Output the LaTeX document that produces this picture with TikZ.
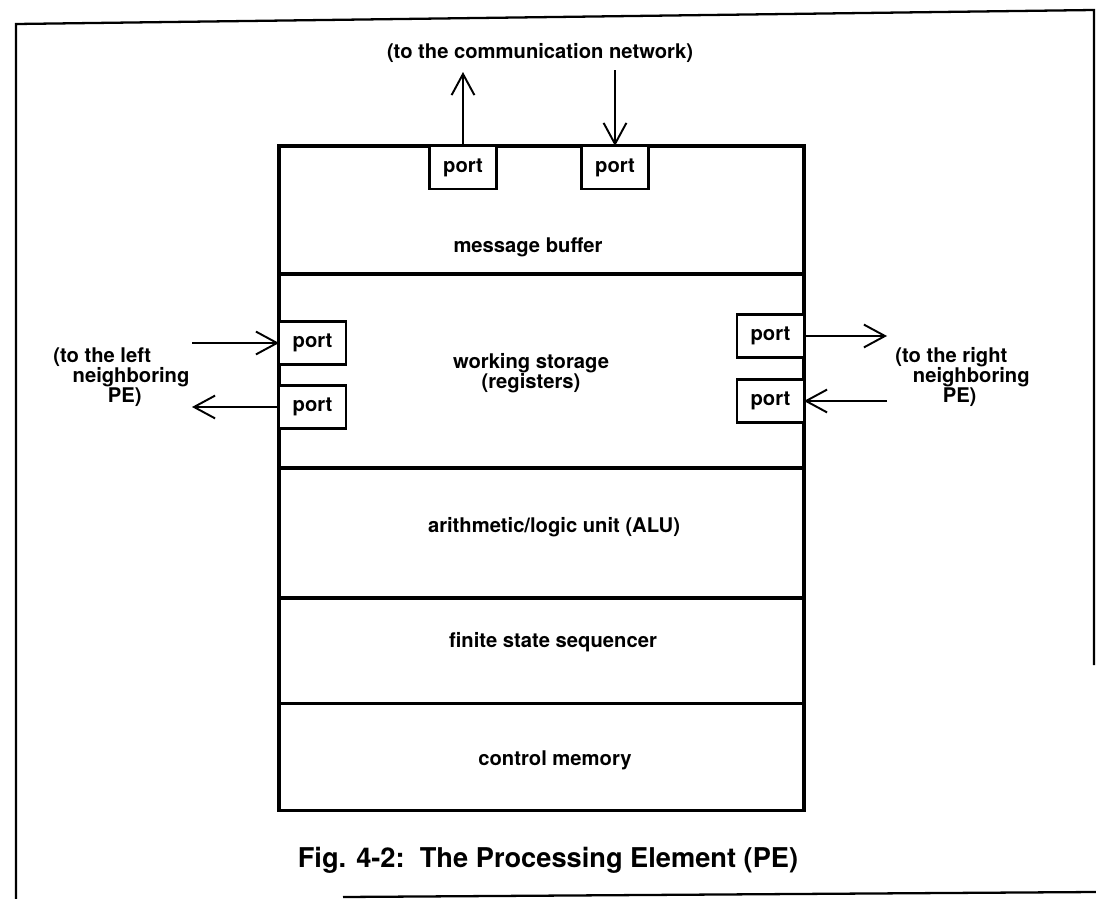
\documentclass[tikz,border=0pt]{standalone}
\usepackage{fontspec}
\setmainfont{TeX Gyre Heros}
\usepackage{tikz}
\usetikzlibrary{arrows.meta,positioning}
\tikzstyle{arrow} = [line width=1.1pt,-{Straight Barb[length=12pt,width=13pt]}]
\tikzstyle{sect} = [rectangle, draw, line width=1.8pt, minimum width=10.5cm, inner sep=0pt, outer sep=0pt]
\tikzstyle{port} = [rectangle, draw, fill=white, line width=1.4pt, minimum width=1.34cm, minimum height=0.86cm, inner sep=0pt, outer sep=0pt, font=\fontsize{11.5}{12}\selectfont\bfseries]
\tikzstyle{lbl} = [inner sep=0pt, font=\fontsize{11.5}{11.3}\selectfont\bfseries]

\begin{document}
\begin{tikzpicture}[x=0.02cm, y=-0.02cm]
    \useasboundingbox (0,0) rectangle (1096,899);
    \draw[line width=1.3pt] (16,899) -- (16,24) -- (1094,10) -- (1094,665);
    \draw[line width=1.3pt] (343,897) -- (1096,892);

    \node[sect, minimum height=2.56cm] (buf) at (541.5,210) {};
    \node[sect, minimum height=3.88cm, below=0pt of buf] (ws) {};
    \node[sect, minimum height=2.60cm, below=0pt of ws] (alu) {};
    \node[sect, minimum height=2.12cm, below=0pt of alu] (fss) {};
    \node[sect, minimum height=2.14cm, below=0pt of fss] (cm) {};

    \node[lbl] (buftxt) at (528,247) {message buffer};
    \node[lbl, align=center] (wstxt) at (531,373) {working storage\\(registers)};
    \node[lbl] (alutxt) at (554,527) {arithmetic/logic unit (ALU)};
    \node[lbl] (fsstxt) at (553,642) {finite state sequencer};
    \node[lbl] (cmtxt) at (555,760) {control memory};

    \node[port, anchor=north] (pt1) at (463,146) {port};
    \node[port, anchor=north] (pt2) at (615,146) {port};
    \node[port, anchor=west] (pl1) at (ws.west |- 0,343) {port};
    \node[port, anchor=west] (pl2) at (ws.west |- 0,407) {port};
    \node[port, anchor=east] (pr1) at (ws.east |- 0,336) {port};
    \node[port, anchor=east] (pr2) at (ws.east |- 0,401) {port};

    \node[lbl] (nettxt) at (540,53) {(to the communication network)};
    \node[lbl, align=left, anchor=west] (lefttxt) at (53,377) {(to the left\\\hspace*{11pt}neighboring\\\hspace*{31pt}PE)};
    \node[lbl, align=left, anchor=west] (righttxt) at (895,377) {(to the right\\\hspace*{10pt}neighboring\\\hspace*{27pt}PE)};

    \coordinate (netout) at (463,72);
    \coordinate (netin) at (615,70);
    \coordinate (leftin) at (192,343);
    \coordinate (leftout) at (192,407);
    \coordinate (rightout) at (887,336);
    \coordinate (rightin) at (887,401);
    \draw[arrow] (pt1.north) -- (netout);
    \draw[arrow] (netin) -- (pt2.north);
    \draw[arrow] (leftin) -- (pl1.west);
    \draw[arrow] (pl2.west) -- (leftout);
    \draw[arrow] (pr1.east) -- (rightout);
    \draw[arrow] (rightin) -- (pr2.east);

    \node[inner sep=0pt, font=\fontsize{15.5}{17}\selectfont\bfseries] (caption) at (548,860) {Fig. 4-2:\ \ The Processing Element (PE)};
\end{tikzpicture}
\end{document}
